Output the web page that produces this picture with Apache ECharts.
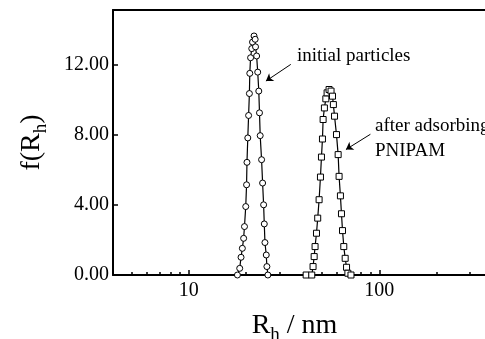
<!DOCTYPE html>
<html>
<head>
<meta charset="utf-8">
<script src="https://cdn.jsdelivr.net/npm/echarts@6/dist/echarts.min.js"></script>
<style>
html, body { margin: 0; padding: 0; background: #fff; }
#chart { width: 485px; height: 339px; }
</style>
</head>
<body>
<div id="chart"></div>
<script>
// hydrodynamic radius distribution
var circleR = [18.0, 18.5, 18.8, 19.1, 19.4, 19.6, 19.9, 20.1, 20.2, 20.4, 20.6, 20.8, 20.9, 21.1, 21.4, 21.6, 22.0,
    22.3, 22.4, 22.7, 23.0, 23.3, 23.5, 23.7, 24.1, 24.4, 24.7, 24.9, 25.1, 25.5, 25.7, 26.0];
var circleF = [0, 0.38, 1.01, 1.52, 2.09, 2.76, 3.90, 5.14, 6.42, 7.81, 9.09, 10.34, 11.49, 12.38, 12.90, 13.27, 13.62,
    13.43, 13.00, 12.48, 11.56, 10.48, 9.24, 7.94, 6.57, 5.24, 4.00, 2.91, 1.85, 1.14, 0.48, 0];

var squareR = [41.3, 44.2, 44.9, 45.5, 46.0, 46.8, 47.5, 48.3, 49.1, 49.7, 50.3, 50.7, 51.5, 52.4, 53.2, 54.5,
    55.8, 56.8, 57.4, 58.2, 59.6, 60.8, 61.5, 62.5, 63.3, 64.1, 65.1, 66.2, 67.3, 68.4, 71.0];
var squareF = [0, 0, 0.48, 1.05, 1.62, 2.38, 3.24, 4.29, 5.58, 6.72, 7.75, 8.86, 9.52, 10.04, 10.38, 10.57,
    10.48, 10.19, 9.71, 9.05, 8.00, 6.86, 5.62, 4.51, 3.49, 2.53, 1.62, 0.95, 0.44, 0.10, 0];

var xMajor = [10, 100];
var xMinor = [5, 6, 7, 8, 9, 20, 30, 40, 50, 60, 70, 80, 90, 200, 300];
var yTicks = [0, 4, 8, 12];

var font = '"Liberation Serif", "Times New Roman", serif';

function pairs(xs, ys) {
    var out = [];
    for (var i = 0; i < xs.length; i++) out.push([xs[i], ys[i]]);
    return out;
}

var myChart = echarts.init(document.getElementById('chart'));
var option = {
    animation: false,
    backgroundColor: '#fff',
    grid: { left: 113, right: -9, top: 10, bottom: 64, containLabel: false, outerBoundsMode: 'none' },
    xAxis: [
        {
            type: 'log', logBase: 10, min: 4, max: 400, position: 'bottom',
            name: '{a|R}{s|h}{a| / nm}',
            nameLocation: 'middle', nameGap: 31,
            nameTextStyle: {
                padding: [0, 18, 0, 0],
                rich: {
                    a: { fontFamily: font, fontSize: 28, color: '#000' },
                    s: { fontFamily: font, fontSize: 19, color: '#000', padding: [20, 0, 0, 0] }
                }
            },
            axisLine: { lineStyle: { color: '#000', width: 2 } },
            axisTick: { inside: true, length: 5, customValues: xMajor, lineStyle: { color: '#000', width: 1.5 } },
            axisLabel: { customValues: xMajor, fontFamily: font, fontSize: 20, color: '#000', margin: 6 },
            splitLine: { show: false }
        },
        {
            type: 'log', logBase: 10, min: 4, max: 400, position: 'bottom',
            axisLine: { show: false },
            axisTick: { inside: true, length: 3, customValues: xMinor, lineStyle: { color: '#000', width: 1.5 } },
            axisLabel: { show: false },
            splitLine: { show: false }
        },
        {
            type: 'log', logBase: 10, min: 4, max: 400, position: 'top',
            axisLine: { lineStyle: { color: '#000', width: 2 } },
            axisTick: { show: false },
            axisLabel: { show: false },
            splitLine: { show: false }
        }
    ],
    yAxis: {
        type: 'value', min: 0, max: 15.1,
        name: '{a|f(R}{s|h}{a|)}',
        nameLocation: 'middle', nameRotate: 90, nameGap: 62,
        nameTextStyle: {
            rich: {
                a: { fontFamily: font, fontSize: 28, color: '#000' },
                s: { fontFamily: font, fontSize: 19, color: '#000', padding: [20, 0, 0, 0] }
            }
        },
        axisLine: { show: true, lineStyle: { color: '#000', width: 2 } },
        axisTick: { show: true, inside: true, length: 5, customValues: yTicks, lineStyle: { color: '#000', width: 1.5 } },
        axisLabel: {
            customValues: yTicks, fontFamily: font, fontSize: 20, color: '#000', margin: 4,
            formatter: function (v) { return v.toFixed(2); }
        },
        splitLine: { show: false }
    },
    series: [
        {
            name: 'initial particles', type: 'line', xAxisIndex: 0,
            data: pairs(circleR, circleF),
            symbol: 'circle', symbolSize: 6,
            itemStyle: { color: '#fff', borderColor: '#000', borderWidth: 1 },
            lineStyle: { color: '#000', width: 1.2 },
            silent: true,
            markLine: {
                silent: true, symbol: ['none', 'arrow'], symbolSize: 7,
                label: { show: false },
                lineStyle: { color: '#000', width: 1, type: 'solid' },
                data: [[{ coord: [34.3, 12.0] }, { coord: [25.4, 11.05] }]]
            }
        },
        {
            name: 'after adsorbing PNIPAM', type: 'line', xAxisIndex: 0,
            data: pairs(squareR, squareF),
            symbol: 'rect', symbolSize: 6,
            itemStyle: { color: '#fff', borderColor: '#000', borderWidth: 1 },
            lineStyle: { color: '#000', width: 1.2 },
            silent: true,
            markLine: {
                silent: true, symbol: ['none', 'arrow'], symbolSize: 7,
                label: { show: false },
                lineStyle: { color: '#000', width: 1, type: 'solid' },
                data: [[{ coord: [89.8, 8.02] }, { coord: [66.8, 7.15] }]]
            }
        }
    ],
    graphic: [
        { type: 'text', left: 297, top: 47, style: { text: 'initial particles', font: '19px ' + font, fill: '#000' } },
        { type: 'text', left: 375, top: 117, style: { text: 'after adsorbing', font: '19px ' + font, fill: '#000' } },
        { type: 'text', left: 375, top: 142, style: { text: 'PNIPAM', font: '19px ' + font, fill: '#000' } }
    ]
};
myChart.setOption(option);
</script>
</body>
</html>
